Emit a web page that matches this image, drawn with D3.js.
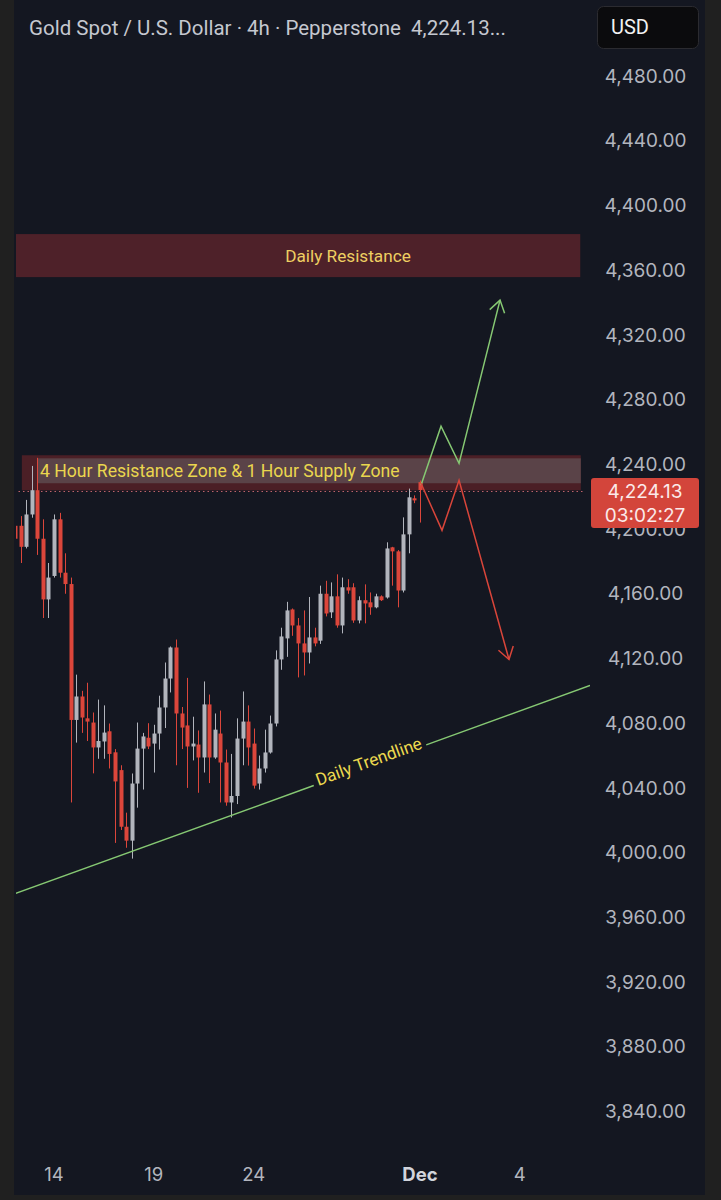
<!DOCTYPE html>
<html><head><meta charset="utf-8">
<script src="https://cdn.jsdelivr.net/npm/d3@7"></script>
<style>
html,body{margin:0;padding:0;background:#202020;}
svg{display:block;}
</style></head>
<body>
<svg id="chart" width="721" height="1200"></svg>
<script>
// ---------- DATA ----------
const barIndex = d3.range(74);
const opens  = [4202,4202,4189,4209,4224,4194,4156.5,4171,4206,4173,4166,4082,4096.5,4083,4080.4,4065,4068.7,4075,4062,4051,4016,4007.4,4042.7,4064.3,4071,4067.4,4073.6,4089.7,4107.6,4126.8,4086,4078.6,4065.6,4066.8,4058.8,4091.6,4058.8,4073.6,4055.7,4031,4035,4070.5,4081,4067.4,4042.7,4052,4061.9,4079.8,4119.4,4132.4,4150.3,4140.4,4129.3,4123.7,4133,4131,4160,4148.5,4158.4,4140.4,4164,4164,4143.5,4156,4154.7,4151.6,4158.4,4157.7,4188.7,4186.2,4162,4196.7,4219,4229];
const highs  = [4206,4208,4218,4239,4244,4206,4179,4209,4210,4185,4170,4110,4100,4105,4086.6,4094.6,4091,4079.8,4064,4054,4024.7,4048.9,4080.4,4074,4080,4079,4097,4117.5,4127.4,4131.7,4090,4108,4084,4075.5,4105.8,4097.7,4086,4087.8,4063.7,4061,4083,4099.6,4091,4076.7,4060,4076,4084.7,4125,4139,4155,4150.9,4145,4149.7,4158,4139,4165,4168,4167,4172,4170,4169,4166.5,4158.4,4165.8,4160.8,4160,4159,4191.8,4189,4187,4207.2,4225,4220.8,4230];
const lows   = [4188,4179,4188,4207,4184,4145,4145,4170,4170,4160,4031,4068,4074,4069,4049,4058,4058,4052,4006,4014,4003,3996.3,4027.8,4039,4064,4049.5,4063.7,4077,4099,4054,4064,4040,4057,4037,4049.5,4043,4058,4031,4029,4021.7,4030,4054,4053.8,4039.6,4039,4049.5,4061.2,4078,4113,4121,4134,4108.3,4109.5,4116.9,4127.5,4129,4146,4145,4139,4135.5,4160,4142,4141.7,4141.7,4147,4151,4155.5,4157,4165,4151.6,4160.8,4185,4216,4204];
const closes = [4194,4189,4209,4224,4194,4156.5,4170,4206,4173,4166,4082,4096.5,4083.5,4081,4065,4069,4074.2,4061,4044,4016,4007.4,4042.7,4064.3,4071.8,4065.6,4073.6,4089.7,4107.6,4126.8,4086,4077.3,4065.6,4067.4,4058.8,4091.6,4058.8,4076,4055.7,4031,4035,4070.5,4081,4065,4041.4,4052,4061.9,4079.8,4119.4,4133.6,4149.7,4140.4,4129.3,4123.7,4133,4129.3,4160,4147.8,4158.4,4140.4,4164,4162,4143.5,4156,4154,4151.6,4158.4,4156,4188,4186.2,4162,4196.7,4219.6,4217.7,4224.13];

const priceTicks = d3.range(3840, 4481, 40);
const dateLabels = ["14", "19", "24", "Dec", "4"];
const dateIndex  = [7, 25, 43, 73, 91];

const headerText = "Gold Spot / U.S. Dollar · 4h · Pepperstone\u00a0\u00a04,224.13...";
const currency = "USD";
const lastPrice = 4224.13;
const countdown = "03:02:27";

// zones: [startIndex, endIndex, lowPrice, highPrice]
const dailyResistance = [-0.03, 101.9, 4355.7, 4382.3];
const supplyZoneOuter = [1.2, 102.0, 4223.9, 4245.6];
const supplyZoneInner = [4.1, 102.0, 4228.3, 4243.7];
const dailyResistanceLabel = "Daily Resistance";
const supplyZoneLabel = "4 Hour Resistance Zone & 1 Hour Supply Zone";

// trendline [index, price]
const trendline = [[-0.04, 3974.6], [103.66, 4103.3]];
const trendlineLabel = "Daily Trendline";

// projected paths [index, price]
const bullPath = [[73.18, 4227.0], [76.79, 4263.5], [80.04, 4240.6], [87.43, 4341.5]];
const bearPath = [[73.18, 4228.3], [76.97, 4199.2], [80.04, 4230.1], [89.05, 4119.4]];

// ---------- CHART ----------
const svg = d3.select("#chart");
const W = 721, H = 1200;
const plotLeft = 14, plotRight = 590, frameRight = 705, frameBottom = 1195;

const x = d3.scaleLinear().domain([0, 73]).range([15.2, 420]);
const y = d3.scaleLinear().domain([3840, 4480]).range([1111.5, 76]);

const C = {
  bg: "#141721", frame: "#202020", up: "#b2b5bd", down: "#dc463b",
  axis: "#b2b5be", yellow: "#ecd94f", green: "#86c873", red: "#d9453a"
};

svg.append("rect").attr("width", W).attr("height", H).attr("fill", C.frame);
svg.append("rect").attr("x", plotLeft).attr("y", 0).attr("width", frameRight - plotLeft)
  .attr("height", frameBottom).attr("fill", C.bg);

const defs = svg.append("defs");
defs.append("clipPath").attr("id", "plotclip").append("rect")
  .attr("x", plotLeft + 2).attr("y", 55).attr("width", plotRight - plotLeft - 2).attr("height", 1080);

const plot = svg.append("g").attr("clip-path", "url(#plotclip)");

// Daily resistance zone
plot.append("rect")
  .attr("x", x(dailyResistance[0])).attr("width", x(dailyResistance[1]) - x(dailyResistance[0]))
  .attr("y", y(dailyResistance[3])).attr("height", y(dailyResistance[2]) - y(dailyResistance[3]))
  .attr("fill", "#4e2129");
plot.append("text")
  .attr("x", 348)
  .attr("y", (y(dailyResistance[3]) + y(dailyResistance[2])) / 2)
  .attr("dy", "0.35em").attr("text-anchor", "middle")
  .attr("font-family", "Roboto, sans-serif").attr("font-size", 17.2)
  .attr("fill", "#efcf62").text(dailyResistanceLabel);

// 4H supply zone
plot.append("rect")
  .attr("x", x(supplyZoneOuter[0])).attr("width", x(supplyZoneOuter[1]) - x(supplyZoneOuter[0]))
  .attr("y", y(supplyZoneOuter[3])).attr("height", y(supplyZoneOuter[2]) - y(supplyZoneOuter[3]))
  .attr("fill", "#4b1f26");
plot.append("rect")
  .attr("x", x(supplyZoneInner[0])).attr("width", x(supplyZoneInner[1]) - x(supplyZoneInner[0]))
  .attr("y", y(supplyZoneInner[3])).attr("height", y(supplyZoneInner[2]) - y(supplyZoneInner[3]))
  .attr("fill", "#5a4348");
plot.append("text")
  .attr("x", x(supplyZoneInner[0]) + 2)
  .attr("y", (y(supplyZoneInner[3]) + y(supplyZoneInner[2])) / 2)
  .attr("dy", "0.35em")
  .attr("font-family", "Roboto, sans-serif").attr("font-size", 17.6)
  .attr("fill", "#ead64e").text(supplyZoneLabel);

// last price dotted line
plot.append("line")
  .attr("x1", plotLeft).attr("x2", 583)
  .attr("y1", y(lastPrice) + 1.5).attr("y2", y(lastPrice) + 1.5)
  .attr("stroke", "#c0646c").attr("stroke-width", 1).attr("stroke-dasharray", "1.5,3");

// Candles
const candles = barIndex.map(i => ({i, o: opens[i], h: highs[i], l: lows[i], c: closes[i]}));
const cg = plot.append("g");
cg.selectAll("line.wick").data(candles).join("line")
  .attr("class", "wick")
  .attr("x1", d => Math.round(x(d.i)) + 0.5).attr("x2", d => Math.round(x(d.i)) + 0.5)
  .attr("y1", d => y(d.h)).attr("y2", d => y(d.l))
  .attr("stroke", d => d.c < d.o ? C.down : C.up).attr("stroke-width", 1);
cg.selectAll("rect.body").data(candles).join("rect")
  .attr("class", "body")
  .attr("x", d => Math.round(x(d.i)) - 1.5).attr("width", 4)
  .attr("y", d => y(Math.max(d.o, d.c)))
  .attr("height", d => Math.max(1.5, Math.abs(y(d.o) - y(d.c))))
  .attr("fill", d => d.c < d.o ? C.down : C.up);

// Trendline with label gap
const t0 = [x(trendline[0][0]), y(trendline[0][1])];
const t1 = [x(trendline[1][0]), y(trendline[1][1])];
const ang = Math.atan2(t1[1] - t0[1], t1[0] - t0[0]);
const cx = 370, cy = t0[1] + (cx - t0[0]) * Math.tan(ang);
const lbl = plot.append("text")
  .attr("transform", `translate(${cx},${cy}) rotate(${ang * 180 / Math.PI})`)
  .attr("text-anchor", "middle").attr("y", 2)
  .attr("font-family", "Roboto, sans-serif").attr("font-size", 17.2)
  .attr("fill", C.yellow).text(trendlineLabel);
const half = lbl.node().getComputedTextLength() / 2 + 4;
const gA = [cx - half * Math.cos(ang), cy - half * Math.sin(ang)];
const gB = [cx + half * Math.cos(ang), cy + half * Math.sin(ang)];
plot.append("line").attr("x1", t0[0]).attr("y1", t0[1]).attr("x2", gA[0]).attr("y2", gA[1])
  .attr("stroke", C.green).attr("stroke-width", 1.4);
plot.append("line").attr("x1", gB[0]).attr("y1", gB[1]).attr("x2", t1[0]).attr("y2", t1[1])
  .attr("stroke", C.green).attr("stroke-width", 1.4);

// Projection paths with arrowheads
function drawArrow(pts, color) {
  const line = d3.line().x(d => x(d[0])).y(d => y(d[1]));
  plot.append("path").attr("d", line(pts)).attr("fill", "none")
    .attr("stroke", color).attr("stroke-width", 1.5).attr("stroke-linejoin", "miter");
  const n = pts.length;
  const tip = [x(pts[n - 1][0]), y(pts[n - 1][1])];
  const prev = [x(pts[n - 2][0]), y(pts[n - 2][1])];
  const a = Math.atan2(tip[1] - prev[1], tip[0] - prev[0]) + Math.PI;
  const L = 14, s = 0.58;
  const w1 = [tip[0] + L * Math.cos(a + s), tip[1] + L * Math.sin(a + s)];
  const w2 = [tip[0] + L * Math.cos(a - s), tip[1] + L * Math.sin(a - s)];
  plot.append("path").attr("d", `M${w1}L${tip}L${w2}`).attr("fill", "none")
    .attr("stroke", color).attr("stroke-width", 1.5);
}
drawArrow(bullPath, C.green);
drawArrow(bearPath, C.red);

// Y axis labels
const fmt = d3.format(",.2f");
svg.append("g").selectAll("text").data(priceTicks).join("text")
  .attr("x", 645.5).attr("y", d => y(d)).attr("dy", "0.35em")
  .attr("text-anchor", "middle")
  .attr("font-family", "Inter, sans-serif").attr("font-size", 19)
  .attr("fill", C.axis).text(d => fmt(d));

// Last price label
const ly = y(lastPrice);
svg.append("rect").attr("x", 591).attr("y", ly - 12).attr("width", 108).attr("height", 50)
  .attr("rx", 3).attr("fill", "#d3453b");
svg.append("text").attr("x", 645).attr("y", ly + 1).attr("dy", "0.35em")
  .attr("text-anchor", "middle").attr("font-family", "Inter, sans-serif").attr("font-size", 19)
  .attr("fill", "#fbeaea").text(fmt(lastPrice));
svg.append("text").attr("x", 645).attr("y", ly + 25).attr("dy", "0.35em")
  .attr("text-anchor", "middle").attr("font-family", "Inter, sans-serif").attr("font-size", 19)
  .attr("fill", "#fbeaea").text(countdown);

// X axis labels
svg.append("g").selectAll("text").data(dateLabels).join("text")
  .attr("x", (d, k) => x(dateIndex[k])).attr("y", 1175).attr("dy", "0.35em")
  .attr("text-anchor", "middle")
  .attr("font-family", "Inter, sans-serif").attr("font-size", 18.5)
  .attr("font-weight", d => d === "Dec" ? 700 : 400)
  .attr("fill", d => d === "Dec" ? "#d1d4dc" : C.axis).text(d => d);

// Header
svg.append("text").attr("x", 29).attr("y", 28).attr("dy", "0.35em")
  .attr("font-family", "Roboto, sans-serif").attr("font-size", 20.5)
  .attr("fill", "#c5c8d0").text(headerText);
svg.append("rect").attr("x", 597.5).attr("y", 6.5).attr("width", 101).attr("height", 42)
  .attr("rx", 6).attr("fill", "#0b0b0d").attr("stroke", "#2b2b30");
svg.append("text").attr("x", 611).attr("y", 27).attr("dy", "0.35em")
  .attr("font-family", "Roboto, sans-serif").attr("font-size", 20)
  .attr("fill", "#f2f2f2").text(currency);
</script>
</body></html>
